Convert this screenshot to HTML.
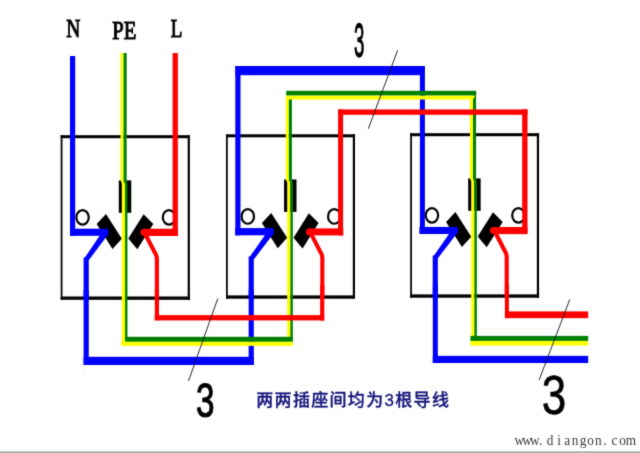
<!DOCTYPE html>
<html lang="zh">
<head>
<meta charset="utf-8">
<title>两两插座间均为3根导线</title>
<style>
html,body{margin:0;padding:0;background:#fff;}
body{width:640px;height:453px;overflow:hidden;position:relative;}
svg{display:block;position:absolute;left:0;top:0;}
.bar{position:absolute;left:0;top:450px;width:640px;height:3px;background:linear-gradient(#f3f6f5 0,#f3f6f5 33.3%,#c2d0cb 33.3%,#c2d0cb 66.6%,#a2b4ac 66.6%,#a2b4ac 100%);}
</style>
</head>
<body>
<svg width="640" height="453" viewBox="0 0 640 453">
<defs><filter id="soft" filterUnits="userSpaceOnUse" x="0" y="0" width="640" height="453" color-interpolation-filters="sRGB"><feConvolveMatrix order="3" kernelMatrix="0.02 0.09 0.02 0.09 0.56 0.09 0.02 0.09 0.02" edgeMode="duplicate" preserveAlpha="false"/></filter></defs>
<g filter="url(#soft)">
<rect x="60.7" y="135.2" width="129.2" height="3" fill="#000000"/>
<rect x="60.7" y="296.5" width="129.2" height="3.3" fill="#000000"/>
<rect x="60.7" y="135.2" width="1.75" height="164.6" fill="#000000"/>
<rect x="187.7" y="135.2" width="2.2" height="164.6" fill="#000000"/>
<rect x="118.8" y="180.4" width="12.45" height="32.4" fill="#000000"/>
<ellipse cx="82.55" cy="217.35" rx="6.2" ry="7.3" fill="#fff" stroke="#000000" stroke-width="2.2"/>
<ellipse cx="169" cy="217.35" rx="6.2" ry="7.3" fill="#fff" stroke="#000000" stroke-width="2.2"/>
<polygon points="106,214 96.65,224 112.5,249.1 121.85,238.7" fill="#000000"/>
<polygon points="143.6,214.2 153.3,224 137.3,249.3 128.3,238.6" fill="#000000"/>
<rect x="226" y="134.3" width="129" height="3" fill="#000000"/>
<rect x="226" y="295.4" width="129" height="3.3" fill="#000000"/>
<rect x="226" y="134.3" width="1.75" height="164.4" fill="#000000"/>
<rect x="352.8" y="134.3" width="2.2" height="164.4" fill="#000000"/>
<rect x="284.05" y="179.5" width="12.45" height="32.4" fill="#000000"/>
<ellipse cx="247.8" cy="216.45" rx="6.2" ry="7.3" fill="#fff" stroke="#000000" stroke-width="2.2"/>
<ellipse cx="334.25" cy="216.45" rx="6.2" ry="7.3" fill="#fff" stroke="#000000" stroke-width="2.2"/>
<polygon points="271.25,213.1 261.9,223.1 277.75,248.2 287.1,237.8" fill="#000000"/>
<polygon points="308.85,213.3 318.55,223.1 302.55,248.4 293.55,237.7" fill="#000000"/>
<rect x="410.2" y="133.2" width="128.85" height="3" fill="#000000"/>
<rect x="410.2" y="294.4" width="128.85" height="3.3" fill="#000000"/>
<rect x="410.2" y="133.2" width="1.75" height="164.5" fill="#000000"/>
<rect x="536.85" y="133.2" width="2.2" height="164.5" fill="#000000"/>
<rect x="468.2" y="178.4" width="12.45" height="32.4" fill="#000000"/>
<ellipse cx="431.95" cy="215.35" rx="6.2" ry="7.3" fill="#fff" stroke="#000000" stroke-width="2.2"/>
<ellipse cx="518.4" cy="215.35" rx="6.2" ry="7.3" fill="#fff" stroke="#000000" stroke-width="2.2"/>
<polygon points="455.4,212 446.05,222 461.9,247.1 471.25,236.7" fill="#000000"/>
<polygon points="493,212.2 502.7,222 486.7,247.3 477.7,236.6" fill="#000000"/>
<rect x="70" y="228.7" width="38" height="7.1" fill="#0000ff"/>
<polygon points="108.3,229.2 108.6,233.8 88.75,260.3 88.75,300 83.6,300 83.6,257.5 84.9,257.5 99.6,235.7" fill="#0000ff"/>
<rect x="235.25" y="228.1" width="38" height="7.2" fill="#0000ff"/>
<polygon points="273.55,228.6 273.85,233.3 253.8,259.4 253.8,299.1 248.65,299.1 248.65,256.6 249.95,256.6 264.85,235.2" fill="#0000ff"/>
<rect x="419.4" y="226.9" width="38" height="7.1" fill="#0000ff"/>
<polygon points="457.7,227.4 458,232 437.85,258.3 437.85,298 432.7,298 432.7,255.5 434,255.5 449,233.9" fill="#0000ff"/>
<rect x="70" y="56" width="5.2" height="179.8" fill="#0000ff"/>
<rect x="83.6" y="290" width="5.15" height="75" fill="#0000ff"/>
<rect x="83.6" y="356.8" width="170.2" height="8.2" fill="#0000ff"/>
<rect x="248.65" y="290" width="5.15" height="75" fill="#0000ff"/>
<rect x="235.3" y="66" width="5.2" height="169.3" fill="#0000ff"/>
<rect x="235.4" y="66" width="189.3" height="9.2" fill="#0000ff"/>
<rect x="419.9" y="66" width="5" height="168" fill="#0000ff"/>
<rect x="432.8" y="285" width="5" height="78" fill="#0000ff"/>
<rect x="432.8" y="355.85" width="155.4" height="7.15" fill="#0000ff"/>
<polygon points="120.55,53 123.6,53 123.6,180.3 125,183.5 125,345.75 121.8,345.75 121.8,183.5 120.55,180.3" fill="#ffff00"/>
<polygon points="123.6,53 126.65,53 126.65,180.3 127.45,183.5 127.45,341 125,341 125,183.5 123.6,180.3" fill="#008000"/>
<polygon points="285.8,95.5 288.85,95.5 288.85,179.2 290.4,182.4 290.4,338 287.2,338 287.2,182.4 285.8,179.2" fill="#ffff00"/>
<polygon points="288.85,99 291.9,99 291.9,179.2 292.85,182.4 292.85,340 290.4,340 290.4,182.4 288.85,179.2" fill="#008000"/>
<polygon points="469.95,96 473,96 473,178.2 474.4,181.4 474.4,345.6 471.2,345.6 471.2,181.4 469.95,178.2" fill="#ffff00"/>
<polygon points="473,91 476.05,91 476.05,178.2 476.85,181.4 476.85,341 474.4,341 474.4,181.4 473,178.2" fill="#008000"/>
<rect x="121" y="341.4" width="171.7" height="4.5" fill="#ffff00"/>
<rect x="125" y="336.8" width="167.9" height="4.85" fill="#008000"/>
<polygon points="286.2,95.4 475.6,95.4 473,99.5 286.2,99.5" fill="#ffff00"/>
<rect x="286.2" y="90.8" width="190" height="4.6" fill="#008000"/>
<rect x="470.4" y="340.8" width="117.8" height="4.7" fill="#ffff00"/>
<rect x="470.4" y="335.9" width="117.8" height="4.95" fill="#008000"/>
<rect x="144" y="228.7" width="34" height="7.3" fill="#ff0000"/>
<circle cx="144.1" cy="232.35" r="3.65" fill="#ff0000"/>
<path d="M144.7 233 L156.2 255.3 Q156.9 256.8 156.9 259.5 V300" fill="none" stroke="#ff0000" stroke-width="4.1" stroke-linejoin="round"/>
<rect x="309.25" y="228.4" width="34" height="7" fill="#ff0000"/>
<circle cx="309.35" cy="231.9" r="3.5" fill="#ff0000"/>
<path d="M310.15 232.1 L321.65 254.4 Q322.35 255.9 322.35 258.6 V299.1" fill="none" stroke="#ff0000" stroke-width="4.1" stroke-linejoin="round"/>
<rect x="493.4" y="227" width="34" height="7.1" fill="#ff0000"/>
<circle cx="493.5" cy="230.55" r="3.55" fill="#ff0000"/>
<path d="M494.5 231 L506 253.3 Q506.7 254.8 506.7 257.5 V298" fill="none" stroke="#ff0000" stroke-width="4.1" stroke-linejoin="round"/>
<rect x="172.6" y="53" width="5.25" height="183" fill="#ff0000"/>
<rect x="154.8" y="290" width="4.2" height="30.3" fill="#ff0000"/>
<rect x="154.8" y="315.1" width="169.4" height="5.3" fill="#ff0000"/>
<rect x="320.1" y="285" width="4.2" height="35.5" fill="#ff0000"/>
<rect x="338.1" y="109.4" width="5" height="126" fill="#ff0000"/>
<rect x="338" y="109.45" width="189.5" height="5.35" fill="#ff0000"/>
<rect x="522.2" y="109.4" width="5.3" height="124.7" fill="#ff0000"/>
<rect x="504.9" y="285" width="4" height="33.2" fill="#ff0000"/>
<rect x="504.9" y="311.4" width="83.3" height="6.75" fill="#ff0000"/>
<rect x="285.9" y="31.5" width="0.7" height="1.1" fill="#ffff66"/>
<rect x="285.9" y="56.6" width="0.7" height="1.2" fill="#ffff66"/>
<rect x="217.3" y="298.1" width="0.8" height="0.8" fill="#ff8080"/>
<rect x="84.6" y="372.6" width="0.9" height="0.9" fill="#9090ff"/>
<rect x="439.1" y="343.7" width="0.9" height="1" fill="#ffff66"/>
<line x1="397.6" y1="50.3" x2="368.3" y2="128.8" stroke="#111" stroke-width="0.9" stroke-linecap="butt"/>
<line x1="217.7" y1="298.8" x2="188.5" y2="381" stroke="#111" stroke-width="0.9" stroke-linecap="butt"/>
<line x1="569.8" y1="299.4" x2="539.1" y2="380" stroke="#111" stroke-width="0.9" stroke-linecap="butt"/>
</g>
<g filter="url(#soft)">
<text x="66.2" y="36.7" font-family='"Liberation Serif","Noto Serif CJK SC",serif' font-size="26" fill="#000" stroke="#000" stroke-width="1.1" lengthAdjust="spacingAndGlyphs" textLength="14">N</text>
<text x="112.2" y="39.2" font-family='"Liberation Serif","Noto Serif CJK SC",serif' font-size="26" fill="#000" stroke="#000" stroke-width="1.1" lengthAdjust="spacingAndGlyphs" textLength="24">PE</text>
<text x="170.7" y="36.7" font-family='"Liberation Serif","Noto Serif CJK SC",serif' font-size="26" fill="#000" stroke="#000" stroke-width="1.1" lengthAdjust="spacingAndGlyphs" textLength="11.6">L</text>
<text x="256.3" y="406" font-family='"Liberation Sans","Noto Sans CJK SC",sans-serif' font-size="17" fill="#15157a" font-weight="500" stroke="#15157a" stroke-width="0.3" textLength="192.6" lengthAdjust="spacing">两两插座间均为3根导线</text>
<text transform="matrix(0.83,0,0,0.91,0,444.6)" x="625.54 634.94 644.46 651.45 662.77 673.73 683.25 692.77 702.53 711.69 720.84 728.92 740.36 750.24 760.00" y="0" text-anchor="middle" font-family='"Liberation Serif","Noto Serif CJK SC",serif' font-size="16" fill="#3a3a3a">www.diangon.com</text>
<text transform="matrix(0.1858,0,0,0.4758,354.12,56.56)" font-family='"Liberation Sans","Noto Sans CJK SC",sans-serif' font-weight="normal" font-size="100" fill="#000" stroke="#000" stroke-width="1" vector-effect="non-scaling-stroke" stroke-linejoin="round">3</text>
<text transform="matrix(0.3324,0,0,0.4828,195.96,417.35)" font-family='"Liberation Sans","Noto Sans CJK SC",sans-serif' font-weight="normal" font-size="100" fill="#000" stroke="#000" stroke-width="1" vector-effect="non-scaling-stroke" stroke-linejoin="round">3</text>
<text transform="matrix(0.4397,0,0,0.5523,541.78,414.29)" font-family='"Liberation Sans","Noto Sans CJK SC",sans-serif' font-weight="normal" font-size="100" fill="#000" stroke="#000" stroke-width="0.5" vector-effect="non-scaling-stroke" stroke-linejoin="round">3</text>
</g>
</svg>
<div class="bar"></div>
</body>
</html>
